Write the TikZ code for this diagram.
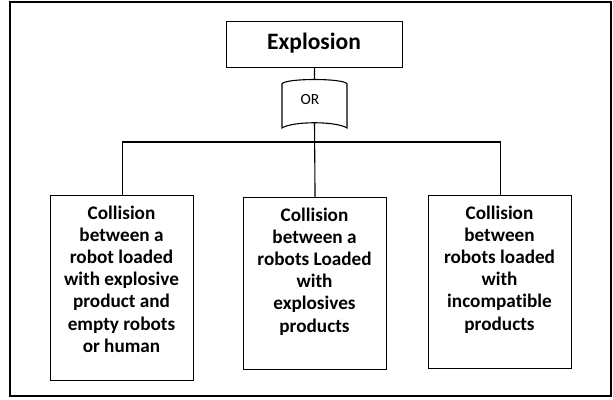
\documentclass[tikz,border=0pt]{standalone}
\usepackage{fontspec}
\setmainfont[Ligatures=NoCommon]{Carlito}
\begin{document}
\begin{tikzpicture}[x=1pt,y=-1pt,line width=1.1pt,
  box/.style={draw,rectangle,anchor=north west,inner sep=0pt},
  boxtext/.style={anchor=north,inner sep=0pt,align=center,font=\bfseries\fontsize{19.2}{22.2}\selectfont},
  gate/.style={line width=1.1pt}]
\useasboundingbox (0,0) rectangle (613,399);
\draw[line width=1.6pt] (10,2) rectangle (611,396);
% top event
\node[box,minimum width=176pt,minimum height=46pt] (top) at (226,21) {};
\node[anchor=base,inner sep=0pt,font=\bfseries\fontsize{23.5}{26}\selectfont] (toptext) at (314,49) {Explosion};
% OR gate
\coordinate (gtop) at (314.5,79);
\coordinate (gbot) at (314.5,123);
\draw[gate] (282,84) .. controls (284,78) and (345,78) .. (347,84) -- (347,128)
  .. controls (336,121) and (293,121) .. (282,128) -- cycle;
\node[anchor=base,inner sep=0pt,font=\fontsize{15.5}{18}\selectfont] (ortext) at (310,104) {OR};
% basic events
\node[box,minimum width=143pt,minimum height=185pt] (b1) at (50,195) {};
\node[box,minimum width=143pt,minimum height=172pt] (b2) at (243,197) {};
\node[box,minimum width=143pt,minimum height=173pt] (b3) at (428,195) {};
\node[boxtext] (t1) at (121.5,205) {Collision\\between a\\robot loaded\\with explosive\\product and\\empty robots\\or human};
\node[boxtext] (t2) at (314.5,207) {Collision\\between a\\robots Loaded\\with\\explosives\\products};
\node[boxtext] (t3) at (499.5,205) {Collision\\between\\robots loaded\\with\\incompatible\\products};
% connectors
\coordinate (bus) at (314.5,142);
\draw (top.south) -- (gtop);
\draw (gbot) -- (b2.north);
\draw (b1.north) |- (bus) -| (b3.north);
\end{tikzpicture}
\end{document}
